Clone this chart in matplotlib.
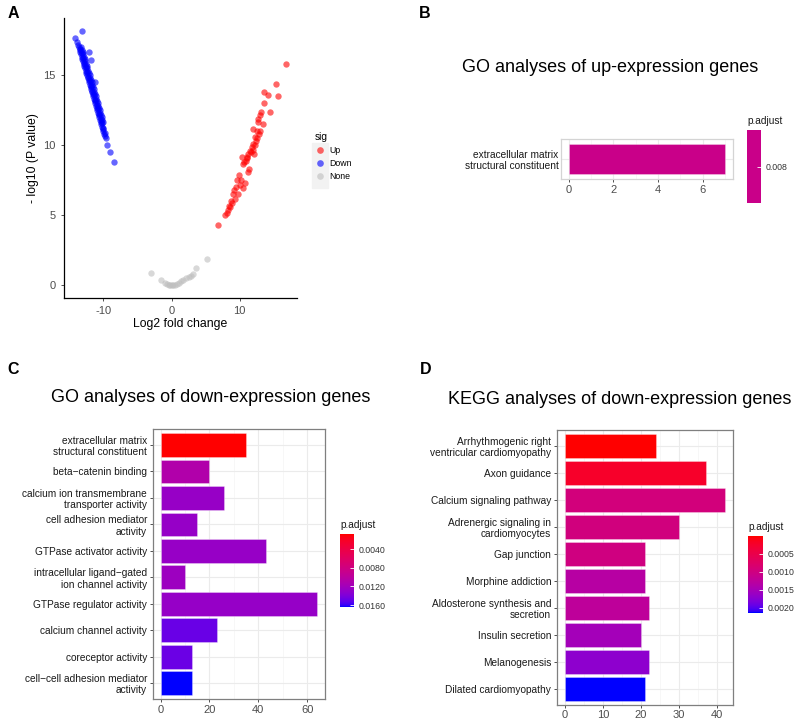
import numpy as np
import matplotlib
matplotlib.use('Agg')
import matplotlib.pyplot as plt
from matplotlib.colors import ListedColormap, Normalize
from matplotlib.cm import ScalarMappable
from matplotlib.lines import Line2D
from matplotlib.patches import Rectangle
from matplotlib.ticker import FormatStrFormatter, MultipleLocator

plt.rcParams['font.family'] = ['Liberation Sans', 'DejaVu Sans']
plt.rcParams['axes.unicode_minus'] = False

# ---- panel A: volcano data ----
up_x = [16.8, 15.3, 13.6, 14.1, 15.6, 13.6, 13.2, 14.5, 13.0, 12.65, 12.7, 13.5, 12.0, 13.0,
        12.85, 12.6, 12.4, 12.2, 12.0, 11.7, 11.3, 12.1, 10.4, 11.1, 10.9, 10.55, 11.4, 11.3,
        9.6, 10.2, 10.8, 10.0, 10.55, 9.1, 9.7, 9.35, 8.95, 8.6, 8.3, 7.8, 6.8,
        12.3, 11.9, 11.5, 11.1, 9.9, 9.2, 8.8, 8.45, 12.5, 11.8, 10.7, 9.5, 8.1]
up_y = [15.8, 14.4, 13.8, 13.6, 13.5, 13.0, 12.4, 12.4, 12.2, 11.86, 11.67, 11.5, 11.2, 11.0,
        10.8, 10.5, 10.3, 10.0, 9.7, 9.5, 9.4, 9.4, 9.14, 9.1, 8.9, 8.64, 8.3, 8.07,
        7.5, 7.5, 7.33, 7.2, 6.95, 6.5, 6.5, 6.2, 5.9, 5.6, 5.4, 5.0, 4.3,
        10.6, 10.1, 9.6, 9.2, 7.9, 6.8, 6.0, 5.7, 11.0, 9.9, 8.8, 7.0, 5.2]

# isolated down-regulated genes
down_x = [-14.2, -13.2, -12.1, -11.8, -11.2, -9.45, -9.05, -8.4, -13.9, -13.8]
down_y = [17.7, 18.2, 16.7, 16.1, 14.5, 10.05, 9.5, 8.8, 17.4, 17.2]
# dense band of down-regulated genes (three overlapping rows)
band_x = [-13.6, -13.5, -13.4, -13.3, -13.2, -13.1, -13.0, -12.9, -12.8, -12.7,
          -12.6, -12.5, -12.4, -12.3, -12.2, -12.1, -12.0, -11.9, -11.8, -11.7,
          -11.6, -11.5, -11.4, -11.3, -11.2, -11.1, -11.0, -10.9, -10.8, -10.7,
          -10.6, -10.5, -10.4, -10.3, -10.2, -10.1, -10.0, -9.9, -9.8, -9.7,
          -13.25, -13.15, -13.05, -12.95, -12.85, -12.75, -12.65, -12.55, -12.45, -12.35,
          -12.25, -12.15, -12.05, -11.95, -11.85, -11.75, -11.65, -11.55, -11.45, -11.35,
          -11.25, -11.15, -11.05, -10.95, -10.85, -10.75, -10.65, -10.55, -10.45, -10.35,
          -10.25, -10.15, -10.05,
          -13.42, -13.22, -13.02, -12.82, -12.62, -12.42, -12.22, -12.02, -11.82, -11.62,
          -11.42, -11.22, -11.02, -10.82, -10.62, -10.42, -10.22, -10.02, -9.85]
band_y = [17.0, 16.83, 16.67, 16.5, 16.33, 16.17, 16.0, 15.83, 15.67, 15.5,
          15.33, 15.17, 15.0, 14.83, 14.67, 14.5, 14.33, 14.17, 14.0, 13.83,
          13.67, 13.5, 13.33, 13.17, 13.0, 12.83, 12.67, 12.5, 12.33, 12.17,
          12.0, 11.83, 11.67, 11.5, 11.33, 11.17, 11.0, 10.83, 10.67, 10.5,
          17.0, 16.83, 16.67, 16.5, 16.33, 16.17, 16.0, 15.83, 15.67, 15.5,
          15.33, 15.17, 15.0, 14.83, 14.67, 14.5, 14.33, 14.17, 14.0, 13.83,
          13.67, 13.5, 13.33, 13.17, 13.0, 12.83, 12.67, 12.5, 12.33, 12.17,
          12.0, 11.83, 11.67,
          16.9, 16.57, 16.23, 15.9, 15.57, 15.23, 14.9, 14.57, 14.23, 13.9,
          13.57, 13.23, 12.9, 12.57, 12.23, 11.9, 11.57, 11.23, 10.9]

none_x = [-3.0, -1.6, -1.0, -0.7, -0.4, -0.2, 0.0, 0.2, 0.5, 0.8, 1.1, 1.4, 1.7, 2.1,
          2.5, 2.8, 3.2, 3.6, 5.2]
none_y = [0.88, 0.36, 0.2, 0.12, 0.06, 0.03, 0.0, 0.02, 0.06, 0.12, 0.2, 0.3, 0.4, 0.5,
          0.6, 0.68, 0.78, 1.24, 1.88]

# ---- panel B ----
b_terms = ['extracellular matrix\nstructural constituent']
b_counts = [7]
b_padj = [0.008]

# ---- panel C ----
c_terms = ['extracellular matrix\nstructural constituent', 'beta\u2212catenin binding',
           'calcium ion transmembrane\ntransporter activity', 'cell adhesion mediator\nactivity',
           'GTPase activator activity', 'intracellular ligand\u2212gated\nion channel activity',
           'GTPase regulator activity', 'calcium channel activity', 'coreceptor activity',
           'cell\u2212cell adhesion mediator\nactivity']
c_counts = [35, 20, 26, 15, 43, 10, 64, 23, 13, 13]
c_padj = [0.0008, 0.0109, 0.0127, 0.0128, 0.0127, 0.0123, 0.0128, 0.0148, 0.0147, 0.0164]
c_ticks = [0.004, 0.008, 0.012, 0.016]

# ---- panel D ----
d_terms = ['Arrhythmogenic right\nventricular cardiomyopathy', 'Axon guidance',
           'Calcium signaling pathway', 'Adrenergic signaling in\ncardiomyocytes',
           'Gap junction', 'Morphine addiction', 'Aldosterone synthesis and\nsecretion',
           'Insulin secretion', 'Melanogenesis', 'Dilated cardiomyopathy']
d_counts = [24, 37, 42, 30, 21, 21, 22, 20, 22, 21]
d_padj = [0.00001, 0.00022, 0.00095, 0.00097, 0.00100, 0.00132, 0.00124, 0.00152, 0.00170, 0.00214]
d_ticks = [0.0005, 0.0010, 0.0015, 0.0020]


def lab_ramp(lo, hi, n=256):
    # red -> blue interpolated in CIELAB, like ggplot's gradient scale
    M = np.array([[0.4124, 0.3576, 0.1805], [0.2126, 0.7152, 0.0722], [0.0193, 0.1192, 0.9505]])
    white = np.array([0.95047, 1.0, 1.08883])

    def to_lab(rgb):
        rgb = np.asarray(rgb, float)
        lin = np.where(rgb <= 0.04045, rgb / 12.92, ((rgb + 0.055) / 1.055) ** 2.4)
        xyz = M @ lin / white
        f = np.where(xyz > 0.008856, np.cbrt(xyz), 7.787 * xyz + 16 / 116)
        return np.array([116 * f[1] - 16, 500 * (f[0] - f[1]), 200 * (f[1] - f[2])])

    a, b = to_lab(lo), to_lab(hi)
    t = np.linspace(0, 1, n)[:, None]
    lab = a + (b - a) * t
    fy = (lab[:, 0] + 16) / 116
    fx = fy + lab[:, 1] / 500
    fz = fy - lab[:, 2] / 200
    f = np.stack([fx, fy, fz], axis=1)
    xyz = np.where(f ** 3 > 0.008856, f ** 3, (f - 16 / 116) / 7.787) * white
    lin = np.clip(xyz @ np.linalg.inv(M).T, 0, 1)
    srgb = np.where(lin <= 0.0031308, 12.92 * lin, 1.055 * lin ** (1 / 2.4) - 0.055)
    return ListedColormap(np.clip(srgb, 0, 1))


cmap = lab_ramp([1, 0, 0], [0, 0, 1])
tick_col = '#4D4D4D'

fig = plt.figure(figsize=(8, 7.2), dpi=100)

# ================= A =================
axA = fig.add_axes([0.08, 0.586, 0.291, 0.389])
kw = dict(s=21, alpha=0.6, linewidths=0)
axA.scatter(none_x, none_y, color='#BEBEBE', **kw)
axA.scatter(band_x, band_y, color='#0000FF', **kw)
axA.scatter(down_x, down_y, color='#0000FF', **kw)
axA.scatter(up_x, up_y, color='#FF0000', **kw)
axA.set_xlim(-15.8, 18.4)
axA.set_ylim(-0.91, 19.1)
axA.set_xticks([-10, 0, 10])
axA.set_yticks([0, 5, 10, 15])
for s in ['top', 'right']:
    axA.spines[s].set_visible(False)
for s in ['left', 'bottom']:
    axA.spines[s].set_linewidth(0.9)
axA.tick_params(labelsize=8, labelcolor=tick_col, length=2.5, width=0.6, color='#333333')
axA.set_xlabel('Log2 fold change', fontsize=8.8, labelpad=1)
axA.set_ylabel('- log10 (P value)', fontsize=8.8, labelpad=3)

handles = [Line2D([], [], ls='', marker='o', ms=4.8, color=c, alpha=0.6, mec='none')
           for c in ['#FF0000', '#0000FF', '#BEBEBE']]
fig.patches.append(Rectangle((312 / 800, 1 - 188 / 720), 16 / 800, 45 / 720,
                             transform=fig.transFigure, color='#F2F2F2', zorder=0))
leg = fig.legend(handles, ['Up', 'Down', 'None'], title='sig', loc='upper left',
                 bbox_to_anchor=(307 / 800, 1 - 124 / 720), frameon=False, fontsize=6.3,
                 title_fontsize=7.3, handlelength=1.2, handletextpad=0.5, labelspacing=0.45)
leg._legend_box.align = 'left'


# ================= bar panels =================
def bar_panel(rect, terms, counts, colors, xlim, xmajor, xminor, border):
    ax = fig.add_axes(rect)
    pos = np.arange(len(terms))
    ax.barh(pos, counts, height=0.9, color=colors, edgecolor=(1, 1, 1, 0.35), linewidth=0.6,
            zorder=3)
    ax.set_yticks(pos)
    ax.set_yticklabels(terms, fontsize=7.3, color='#1A1A1A', linespacing=1.15)
    ax.set_ylim(len(terms) - 0.4, -0.6)
    ax.set_xlim(*xlim)
    ax.xaxis.set_major_locator(MultipleLocator(xmajor))
    ax.xaxis.set_minor_locator(MultipleLocator(xminor))
    ax.grid(True, which='major', color='#EBEBEB', lw=0.8, zorder=0)
    ax.grid(True, which='minor', axis='x', color='#F4F4F4', lw=0.5, zorder=0)
    ax.tick_params(axis='both', which='major', length=2.5, width=0.6, color='#333333',
                   labelsize=7.3, pad=1.5)
    ax.tick_params(axis='x', labelcolor=tick_col, labelsize=8)
    ax.tick_params(which='minor', length=0)
    for s in ax.spines.values():
        s.set_edgecolor(border)
        s.set_linewidth(0.9)
    return ax


def colorbar(rect, norm, cm, ticks, fmt):
    cax = fig.add_axes(rect)
    cb = fig.colorbar(ScalarMappable(norm=norm, cmap=cm), cax=cax, ticks=ticks)
    cb.outline.set_visible(False)
    cax.invert_yaxis()
    cax.yaxis.set_major_formatter(FormatStrFormatter(fmt))
    cax.tick_params(length=3, width=0.6, color='white', direction='in', labelsize=6.3,
                    labelcolor='#333333', pad=3)
    cax.text(0, 1.06, 'p.adjust', transform=cax.transAxes, fontsize=7.3, ha='left',
             va='bottom', color='#1A1A1A')
    return cb


# B
normB = Normalize(0.0079, 0.0081)
colB = [cmap(0.5)]
axB = bar_panel([0.701, 0.751, 0.215, 0.0556], b_terms, b_counts, colB, (-0.35, 7.35),
                2, 1, '#D4D4D4')
axB.tick_params(axis='y', length=0)
colorbar([0.934, 0.718, 0.0175, 0.101], normB, ListedColormap(colB), [0.008], '%.3f')
fig.text(610 / 800, 1 - 67 / 720, 'GO analyses of up-expression genes', fontsize=13,
         ha='center', va='center')

# C
normC = Normalize(min(c_padj), max(c_padj))
axC = bar_panel([0.191, 0.029, 0.215, 0.375], c_terms, c_counts, cmap(normC(c_padj)),
                (-3.2, 67.2), 20, 10, '#7F7F7F')
colorbar([0.425, 0.157, 0.0175, 0.101], normC, cmap, c_ticks, '%.4f')
fig.text(211 / 800, 1 - 398 / 720, 'GO analyses of down-expression genes', fontsize=13,
         ha='center', va='center')

# D
normD = Normalize(min(d_padj), max(d_padj))
axD = bar_panel([0.696, 0.021, 0.22, 0.382], d_terms, d_counts, cmap(normD(d_padj)),
                (-2.1, 44.1), 10, 5, '#7F7F7F')
colorbar([0.935, 0.149, 0.0188, 0.106], normD, cmap, d_ticks, '%.4f')
fig.text(620 / 800, 1 - 400 / 720, 'KEGG analyses of down-expression genes', fontsize=13,
         ha='center', va='center')

# panel letters
for lab, x, y in [('A', 13, 13), ('B', 425, 13), ('C', 13, 370), ('D', 426, 370)]:
    fig.text(x / 800, 1 - y / 720, lab, fontsize=11.5, fontweight='bold', ha='center',
             va='center')

fig.savefig('out.png', dpi=100)
